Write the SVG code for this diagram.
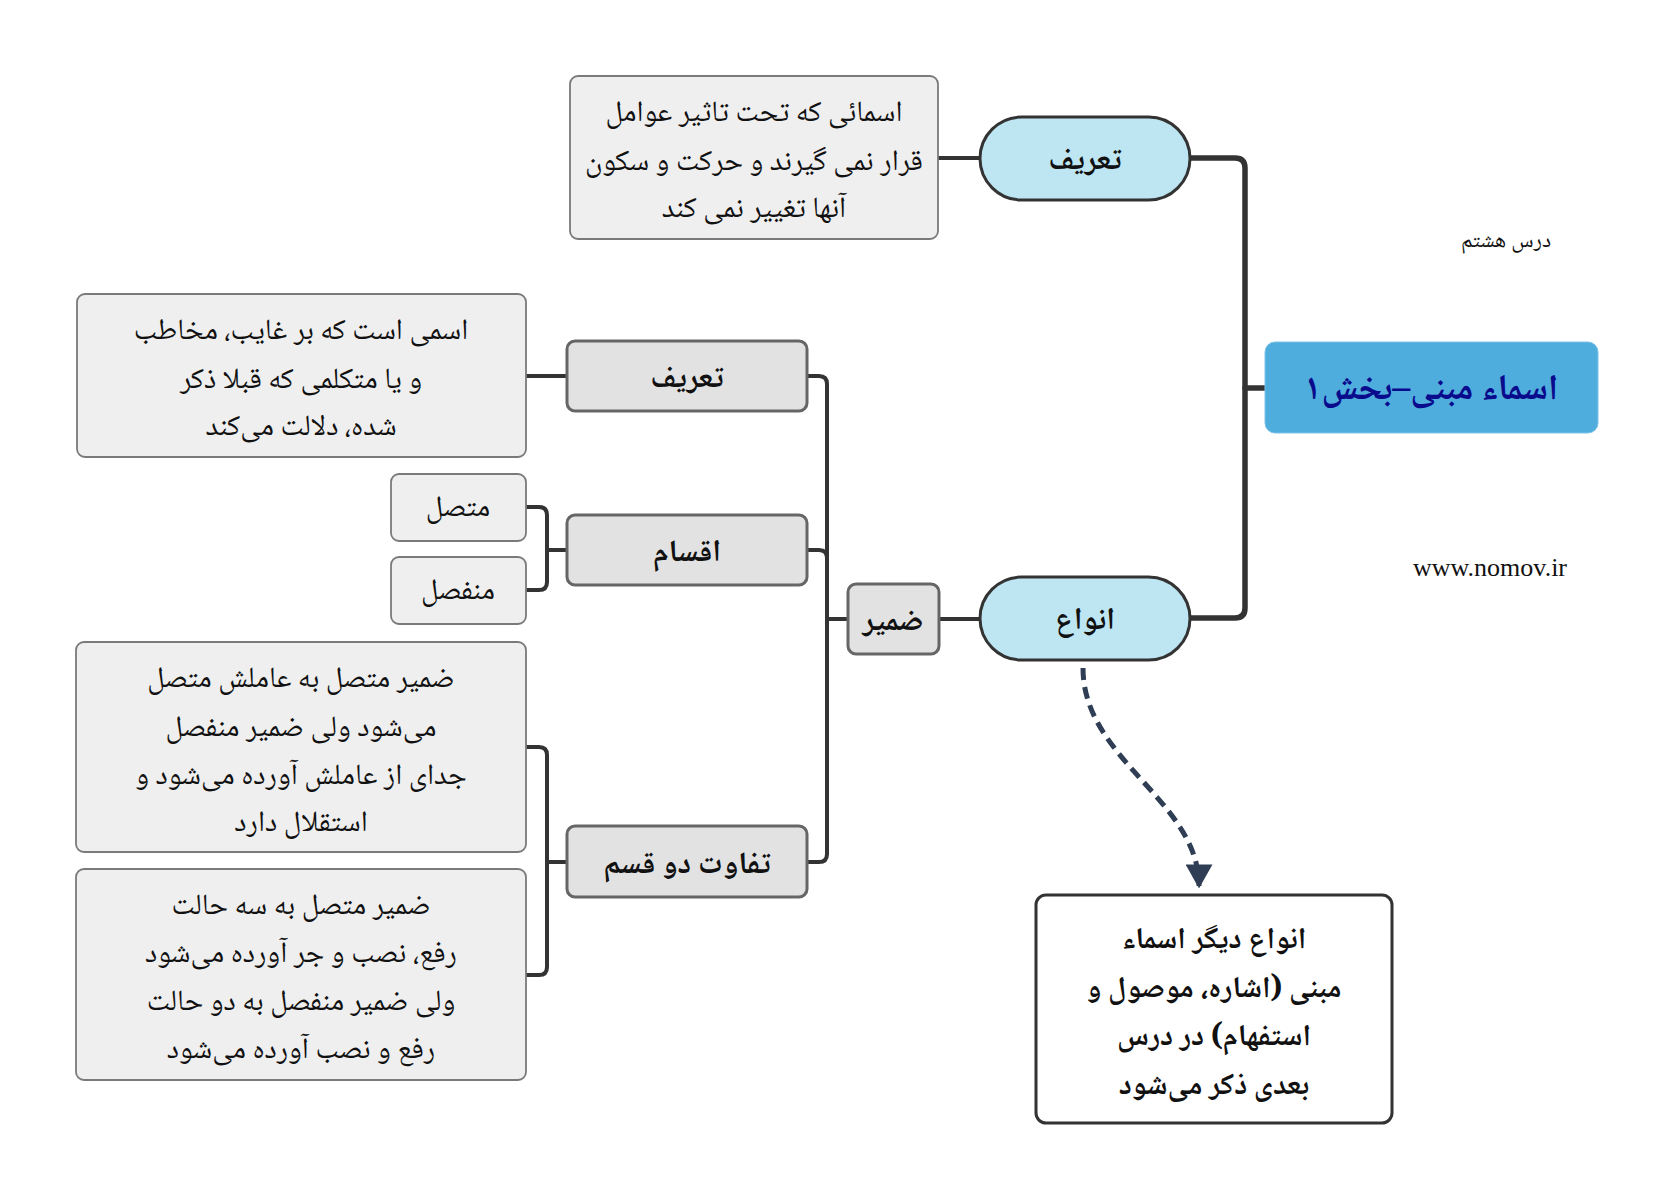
<svg xmlns="http://www.w3.org/2000/svg" width="1675" height="1200" viewBox="0 0 1675 1200">
<defs>
<style>
.t{font-family:"Noto Naskh Arabic","Noto Sans Arabic","DejaVu Sans",sans-serif;direction:rtl;text-anchor:middle;dominant-baseline:central;fill:#111}
.body{font-size:29.5px}
.lbl{font-size:31px;font-weight:bold}
.big{font-size:30px;font-weight:bold}
.note{fill:#efefef;stroke:#7a7a7a;stroke-width:1.8}
.gray{fill:#e2e2e2;stroke:#666;stroke-width:3}
.pill{fill:#bee6f2;stroke:#333;stroke-width:3}
.con{fill:none;stroke:#333;stroke-linecap:round;stroke-linejoin:round}
</style>
<marker id="ah" viewBox="0 0 10 10" refX="9" refY="5" markerWidth="24" markerHeight="27" markerUnits="userSpaceOnUse" orient="auto" preserveAspectRatio="none">
<path d="M0,0 L10,5 L0,10 Z" fill="#2f3e55"/>
</marker>
</defs>
<rect width="1675" height="1200" fill="#fff"/>
<g id="connectors">
<path class="con" stroke-width="5.5" d="M1190,158 H1235 Q1245,158 1245,168 V608 Q1245,618 1235,618 H1190"/>
<path class="con" stroke-width="5.5" d="M1245,388 H1265"/>
<path class="con" stroke-width="4" d="M980,158 H938"/>
<path class="con" stroke-width="4" d="M980,619 H939"/>
<path class="con" stroke-width="4" d="M848,619 H827"/>
<path class="con" stroke-width="4" d="M807,376 H819 Q827,376 827,384 V854 Q827,862 819,862 H807"/>
<path class="con" stroke-width="4" d="M807,550 H819 Q827,550 827,558"/>
<path class="con" stroke-width="4" d="M567,376 H526"/>
<path class="con" stroke-width="4" d="M567,550 H547"/>
<path class="con" stroke-width="4" d="M526,507 H539 Q547,507 547,515 V582 Q547,590 539,590 H526"/>
<path class="con" stroke-width="4" d="M567,862 H547"/>
<path class="con" stroke-width="4" d="M526,747 H539 Q547,747 547,755 V967 Q547,975 539,975 H526"/>
<path fill="none" stroke="#2f3e55" stroke-width="5" stroke-dasharray="12 7" d="M1083,668 C1083,760 1199,800 1199,886" marker-end="url(#ah)"/>
</g>
<g id="main">
<rect x="1265" y="342" width="333" height="91" rx="10" fill="#4fadde" stroke="#7cc3e8" stroke-width="1"/>
<text class="t" x="1431" y="391" font-size="36" font-weight="bold" style="fill:#0a0a8c">اسماء مبنی–بخش۱</text>
</g>
<g id="lesson"><text class="t" x="1506" y="242" font-size="22">درس هشتم</text></g>
<g id="site"><text x="1490" y="567" font-family="Liberation Serif,serif" font-size="26" text-anchor="middle" dominant-baseline="central" fill="#111">www.nomov.ir</text></g>
<g id="tarif1">
<rect class="pill" x="980" y="117" width="210" height="83" rx="41.5"/>
<text class="t lbl" x="1085" y="162">تعریف</text>
</g>
<g id="tarif1-note">
<rect class="note" x="570" y="76" width="368" height="163" rx="8"/>
<text class="t body" x="754" y="114">اسمائی که تحت تاثیر عوامل</text>
<text class="t body" x="754" y="163">قرار نمی گیرند و حرکت و سکون</text>
<text class="t body" x="754" y="210">آنها تغییر نمی کند</text>
</g>
<g id="anvaa">
<rect class="pill" x="980" y="577" width="210" height="83" rx="41.5"/>
<text class="t lbl" x="1085" y="622">انواع</text>
</g>
<g id="zamir">
<rect class="gray" x="848" y="584" width="91" height="70" rx="8"/>
<text class="t lbl" x="893" y="623">ضمیر</text>
</g>
<g id="tarif2">
<rect class="gray" x="567" y="341" width="240" height="70" rx="8"/>
<text class="t lbl" x="687" y="380">تعریف</text>
</g>
<g id="tarif2-note">
<rect class="note" x="77" y="294" width="449" height="163" rx="8"/>
<text class="t body" x="301" y="332">اسمی است که بر غایب، مخاطب</text>
<text class="t body" x="301" y="381">و یا متکلمی که قبلا ذکر</text>
<text class="t body" x="301" y="428">شده، دلالت می‌کند</text>
</g>
<g id="aqsam">
<rect class="gray" x="567" y="515" width="240" height="70" rx="8"/>
<text class="t lbl" x="687" y="554">اقسام</text>
</g>
<g id="mottasel">
<rect class="note" x="391" y="474" width="135" height="67" rx="8"/>
<text class="t body" x="458" y="509">متصل</text>
</g>
<g id="monfasel">
<rect class="note" x="391" y="557" width="135" height="67" rx="8"/>
<text class="t body" x="458" y="592">منفصل</text>
</g>
<g id="tafavot">
<rect class="gray" x="567" y="826" width="240" height="71" rx="8"/>
<text class="t lbl" x="687" y="866">تفاوت دو قسم</text>
</g>
<g id="tafavot-note1">
<rect class="note" x="76" y="642" width="450" height="210" rx="8"/>
<text class="t body" x="301" y="680">ضمیر متصل به عاملش متصل</text>
<text class="t body" x="301" y="729">می‌شود ولی ضمیر منفصل</text>
<text class="t body" x="301" y="777">جدای از عاملش آورده می‌شود و</text>
<text class="t body" x="301" y="824">استقلال دارد</text>
</g>
<g id="tafavot-note2">
<rect class="note" x="76" y="869" width="450" height="211" rx="8"/>
<text class="t body" x="301" y="907">ضمیر متصل به سه حالت</text>
<text class="t body" x="301" y="955">رفع، نصب و جر آورده می‌شود</text>
<text class="t body" x="301" y="1003">ولی ضمیر منفصل به دو حالت</text>
<text class="t body" x="301" y="1051">رفع و نصب آورده می‌شود</text>
</g>
<g id="next">
<rect x="1036" y="895" width="356" height="228" rx="10" fill="#fff" stroke="#333" stroke-width="3"/>
<text class="t big" x="1214" y="941">انواع دیگر اسماء</text>
<text class="t big" x="1214" y="990">مبنی (اشاره، موصول و</text>
<text class="t big" x="1214" y="1038">استفهام) در درس</text>
<text class="t big" x="1214" y="1087">بعدی ذکر می‌شود</text>
</g>
</svg>
